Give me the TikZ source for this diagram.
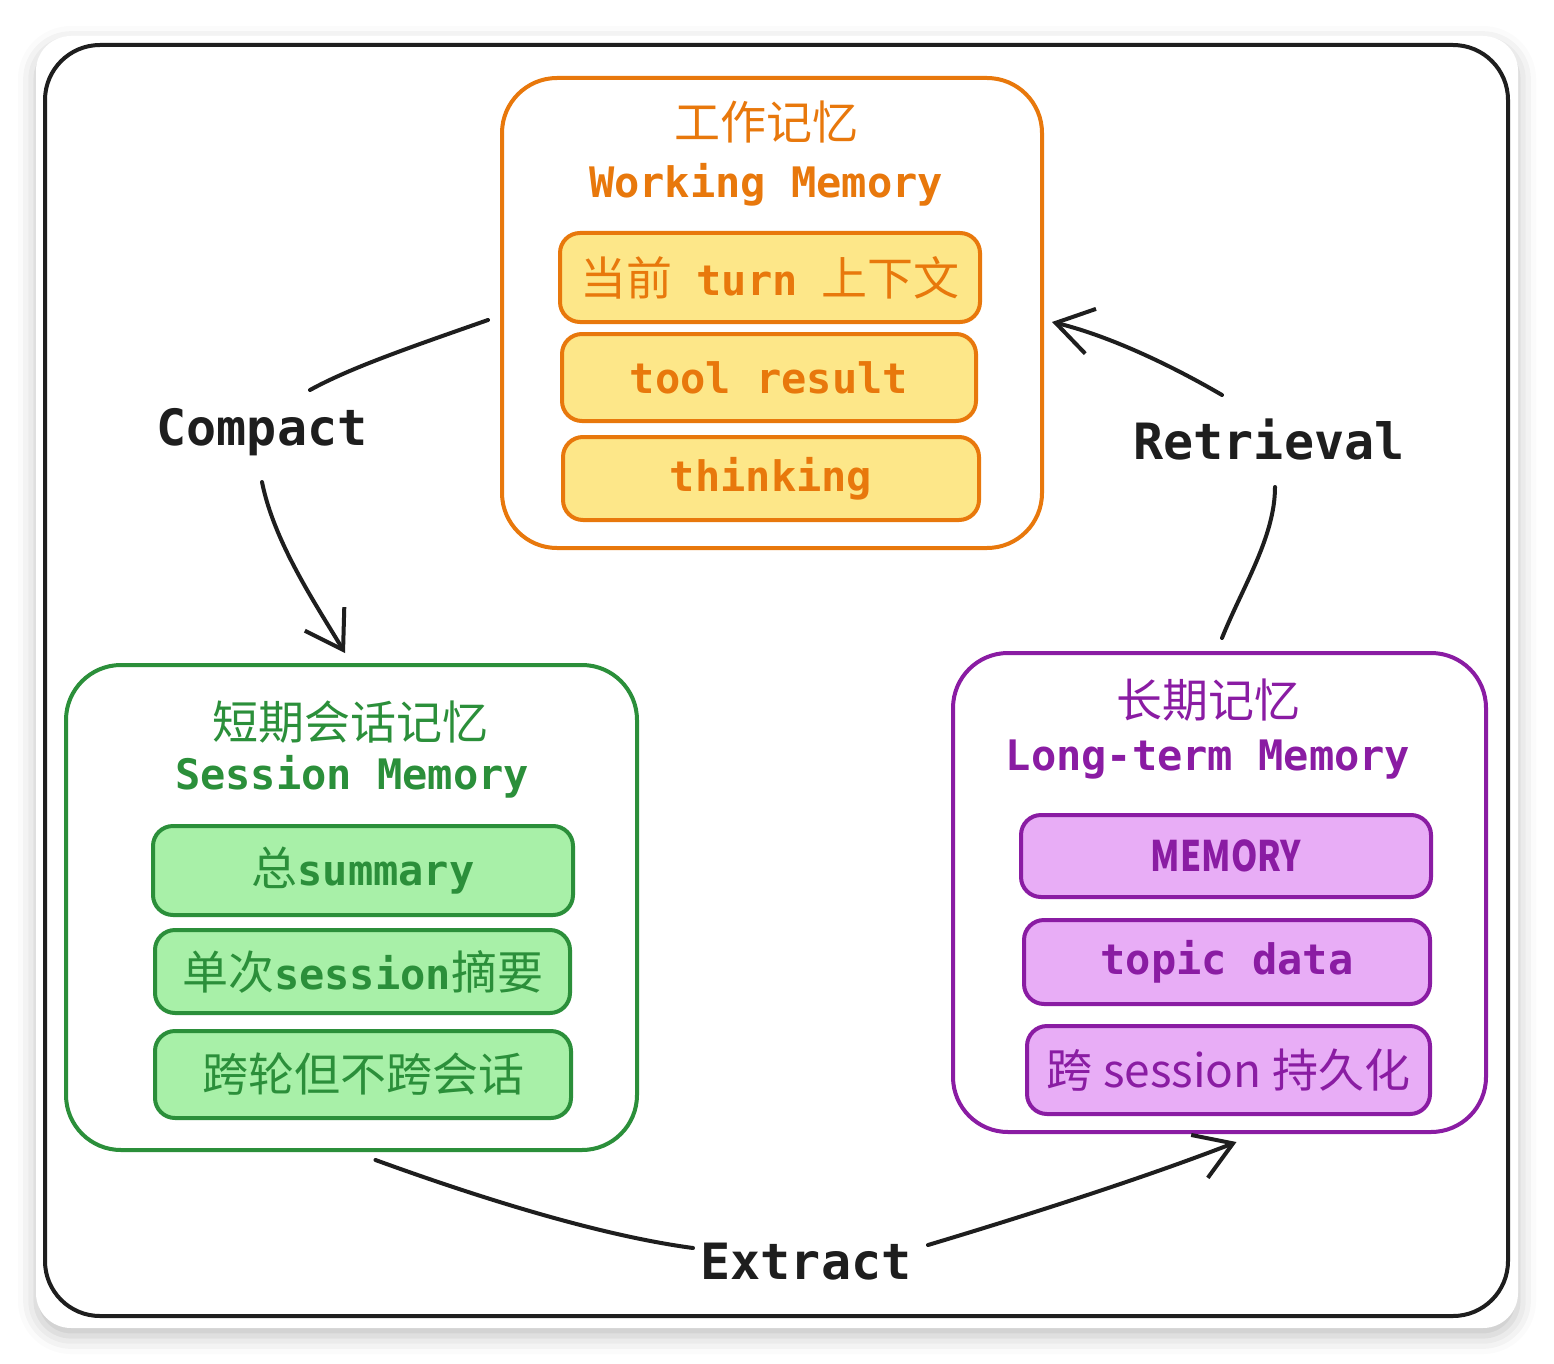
\documentclass[tikz,border=0pt]{standalone}
\usepackage{fontspec}
\newfontfamily\mono{DejaVu Sans Mono}
\newfontfamily\cjk{Noto Sans CJK SC}
\usetikzlibrary{arrows.meta,shadows.blur}
\definecolor{orangeS}{HTML}{E8780C}
\definecolor{yellowF}{HTML}{FDE789}
\definecolor{greenS}{HTML}{2B8F3A}
\definecolor{greenF}{HTML}{A8F0A8}
\definecolor{purpleS}{HTML}{8A1CA3}
\definecolor{purpleF}{HTML}{E8ADF6}
\definecolor{inkC}{HTML}{1E1E1E}
\newcommand{\zh}[1]{{\cjk\mdseries\fontsize{46}{52}\selectfont #1}}
\begin{document}
\begin{tikzpicture}[x=1pt,y=-1pt,
  outerbox/.style={draw=#1, line width=4pt, rounded corners=55pt, inner sep=0pt},
  itembox/.style={draw=#1, line width=4pt, rounded corners=20pt, inner sep=0pt, align=center},
  titlecn/.style={font=\cjk\fontsize{46}{52}\selectfont, inner sep=0pt},
  titleen/.style={font=\mono\bfseries\fontsize{42}{50}\selectfont, inner sep=0pt},
  itemfont/.style={font=\mono\bfseries\fontsize{42}{50}\selectfont},
  conn/.style={draw=inkC, line width=4pt, line cap=round},
  tipc/.style={-{Straight Barb[length=36pt,width=46pt,line width=4pt]}},
  lbl/.style={font=\mono\bfseries\fontsize{50}{60}\selectfont, text=inkC, inner sep=0pt}
]
\useasboundingbox (0,0) rectangle (1554,1364);
% card
\fill[white, rounded corners=35pt,
  blur shadow={shadow blur radius=18pt, shadow xshift=0pt, shadow yshift=-8pt, shadow opacity=25}]
  (36,36) rectangle (1518,1328);
\draw[inkC, line width=4pt, rounded corners=55pt] (45,45) rectangle (1508,1316);

% Working memory
\node[outerbox=orangeS, minimum width=540pt, minimum height=470pt] (wm) at (772,313) {};
\node[titlecn, text=orangeS] (wmcn) at (766,122) {工作记忆};
\node[titleen, text=orangeS] (wmen) at (766,185) {Working Memory};
\node[itembox=orangeS, fill=yellowF, minimum width=420pt, minimum height=89pt, itemfont, text=orangeS] (wm1) at (770,277.5)
  {\zh{当前}\hspace{24pt}turn\hspace{24pt}\zh{上下文}};
\node[itembox=orangeS, fill=yellowF, minimum width=414pt, minimum height=87pt, itemfont, text=orangeS] (wm2) at (769,377.5) {tool result};
\node[itembox=orangeS, fill=yellowF, minimum width=416pt, minimum height=83pt, itemfont, text=orangeS] (wm3) at (771,478.5) {thinking};

% Session memory
\node[outerbox=greenS, minimum width=571pt, minimum height=485pt] (sm) at (351.5,907.5) {};
\node[titlecn, text=greenS] (smcn) at (350,722) {短期会话记忆};
\node[titleen, text=greenS] (smen) at (352,777) {Session Memory};
\node[itembox=greenS, fill=greenF, minimum width=420pt, minimum height=89pt, itemfont, text=greenS] (sm1) at (363,870.5)
  {\zh{总}summary};
\node[itembox=greenS, fill=greenF, minimum width=415pt, minimum height=83pt, itemfont, text=greenS] (sm2) at (362.5,971.5)
  {\zh{单次}session\zh{摘要}};
\node[itembox=greenS, fill=greenF, minimum width=416pt, minimum height=87pt, itemfont, text=greenS] (sm3) at (363,1074.5)
  {\zh{跨轮但不跨会话}};

% Long-term memory
\node[outerbox=purpleS, minimum width=533pt, minimum height=479pt] (ltm) at (1219.5,892.5) {};
\node[titlecn, text=purpleS] (ltmcn) at (1208,700) {长期记忆};
\node[titleen, text=purpleS] (ltmen) at (1208,760) {Long-term Memory};
\node[itembox=purpleS, fill=purpleF, minimum width=410pt, minimum height=82pt, font=\cjk\bfseries\fontsize{42}{48}\selectfont, text=purpleS] (ltm1) at (1226,856)
  {\scalebox{0.8}[1]{MEMORY}};
\node[itembox=purpleS, fill=purpleF, minimum width=406pt, minimum height=84pt, itemfont, text=purpleS] (ltm2) at (1227,962) {topic data};
\node[itembox=purpleS, fill=purpleF, minimum width=403pt, minimum height=88pt, font=\cjk\fontsize{46}{52}\selectfont, text=purpleS] (ltm3) at (1228.5,1070)
  {跨 session 持久化};

% labels
\node[lbl] (cmp) at (262,432) {Compact};
\node[lbl] (ret) at (1269,440) {Retrieval};
\node[lbl] (ext) at (806,1262) {Extract};

% connectors
\draw[conn] ([shift={(-12,7)}]wm.west) .. controls +(-80,28) and +(40,-22) .. ([shift={(48,-42)}]cmp.center);
\draw[conn, tipc] ([shift={(0,50)}]cmp.center) .. controls +(12,60) and +(-30,-50) .. ([shift={(-6.5,-10)}]sm.north);

\draw[conn] ([shift={(2.5,-13)}]ltm.north) .. controls +(20,-50) and +(0,50) .. ([shift={(6,47)}]ret.center);
\draw[conn, tipc] ([shift={(-47,-45)}]ret.center) .. controls +(-60,-35) and +(50,12) .. ([shift={(8,9)}]wm.east);

\draw[conn] ([shift={(24,8)}]sm.south) .. controls +(110,40) and +(-90,-12) .. ([shift={(-113,-14)}]ext.center);
\draw[conn, tipc] ([shift={(122,-17)}]ext.center) .. controls +(100,-30) and +(-90,35) .. ([shift={(17,8)}]ltm.south);
\end{tikzpicture}
\end{document}
